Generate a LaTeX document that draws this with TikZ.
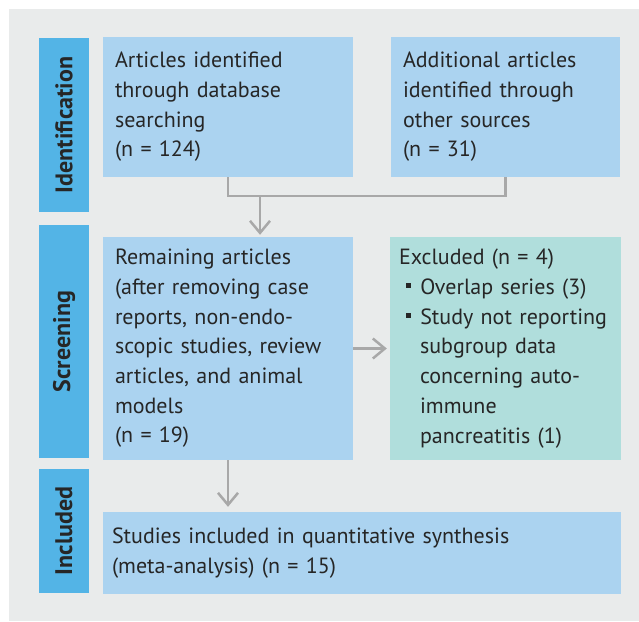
\documentclass[tikz,border=0pt]{standalone}
\usepackage{fontspec}
\setmainfont{PT Sans}
\usetikzlibrary{arrows.meta}
\definecolor{panelgray}{HTML}{E9EBEB}
\definecolor{stageblue}{HTML}{53B4E6}
\definecolor{boxblue}{HTML}{ABD3F0}
\definecolor{exclgreen}{HTML}{B0DEDC}
\definecolor{linkgray}{HTML}{A8A8A8}
\definecolor{inkdark}{HTML}{262626}
\newcommand{\exbul}{\rule[0.28em]{0.24em}{0.24em}}

\begin{document}
\begin{tikzpicture}[x=1pt, y=-1pt,
  stage/.style={fill=stageblue, text=inkdark, font=\bfseries\fontsize{24}{28}\selectfont, rotate=90, minimum height=50pt, inner sep=0pt},
  box/.style={fill=boxblue, text=inkdark, font=\fontsize{22}{29.7}\selectfont, align=left, inner xsep=12pt, inner ysep=0pt},
  link/.style={draw=linkgray, line width=2.5pt},
  flow/.style={link, -{Straight Barb[length=12pt, width=20pt]}}]
\useasboundingbox (0,0) rectangle (639,621);
\fill[panelgray] (9,9) rectangle (639,621);
\node[stage, minimum width=174pt] (ident) at (64,125) {Identification};
\node[stage, minimum width=233pt] (screen) at (64,341.5) {Screening};
\node[stage, minimum width=124pt] (incl) at (64,531) {Included};
\node[box, text width=226pt, minimum height=140pt] (dbase) at (228,107) {Articles identified\\through database\\searching\\(n = 124)};
\node[box, text width=205pt, minimum height=140pt] (other) at (505.5,107) {Additional articles\\identified through\\other sources\\(n = 31)};
\node[box, text width=226pt, minimum height=223pt] (remain) at (228,348.5) {Remaining articles\\(after removing case\\reports, non-endo-\\scopic studies, review\\articles, and animal\\models\\(n = 19)};
\node[box, fill=exclgreen, inner xsep=9pt, text width=213pt, minimum height=223pt] (excl) at (505.5,348.5) {Excluded (n = 4)\\
\hspace*{7pt}\exbul\hspace*{9pt}Overlap series (3)\\
\hspace*{7pt}\exbul\hspace*{9pt}Study not reporting\\
\hspace*{21pt}subgroup data\\
\hspace*{21pt}concerning auto-\\
\hspace*{21pt}immune\\
\hspace*{21pt}pancreatitis (1)};
\node[box, inner xsep=9pt, text width=500pt, minimum height=82pt] (synth) at (362,553) {Studies included in quantitative synthesis\\(meta-analysis) (n = 15)};
\coordinate (join) at (260,196);
\draw[link] (dbase.south) |- (join) -| (other.south);
\draw[flow, shorten >=2pt] (join) -- (join |- remain.north);
\draw[flow, shorten >=3pt] (remain.east) -- (excl.west);
\draw[flow, shorten >=5pt] (remain.south) -- (remain.south |- synth.north);
\end{tikzpicture}
\end{document}
